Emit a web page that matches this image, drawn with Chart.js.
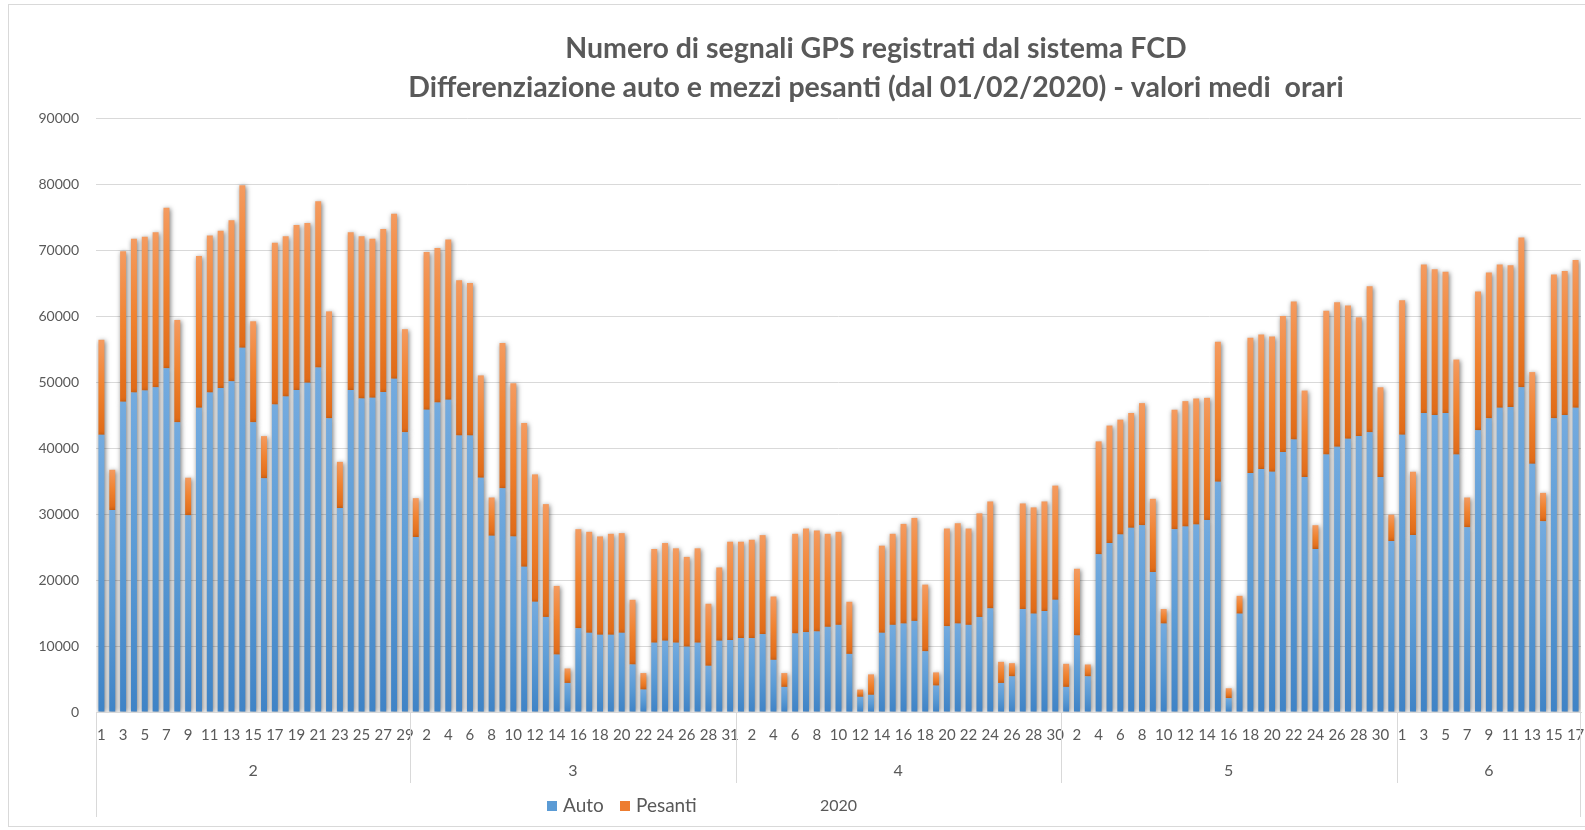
<!DOCTYPE html>
<html lang="it">
<head>
<meta charset="utf-8">
<title>Segnali GPS FCD</title>
<script src="https://cdn.jsdelivr.net/npm/chart.js@4.4.1/dist/chart.umd.min.js"></script>
<style>
  html, body { margin: 0; padding: 0; background: #fff; }
  #chart { display: block; }
</style>
</head>
<body>
<canvas id="chart" width="1585" height="830"></canvas>
<script>
// days per month (29 marzo missing in the source data)
const giorniFeb = [1,2,3,4,5,6,7,8,9,10,11,12,13,14,15,16,17,18,19,20,21,22,23,24,25,26,27,28,29];
const giorniMar = [1,2,3,4,5,6,7,8,9,10,11,12,13,14,15,16,17,18,19,20,21,22,23,24,25,26,27,28,30,31];
const giorniApr = [1,2,3,4,5,6,7,8,9,10,11,12,13,14,15,16,17,18,19,20,21,22,23,24,25,26,27,28,29,30];
const giorniMag = [1,2,3,4,5,6,7,8,9,10,11,12,13,14,15,16,17,18,19,20,21,22,23,24,25,26,27,28,29,30,31];
const giorniGiu = [1,2,3,4,5,6,7,8,9,10,11,12,13,14,15,16,17];
const mesi = ['2', '3', '4', '5', '6'];
const anno = '2020';

// Auto
const autoFeb = [42000,30600,47000,48400,48700,49200,52100,43900,29800,46100,48400,49100,50100,55200,43900,35400,46600,47800,48800,49900,52200,44500,30900,48800,47500,47600,48500,50500,42400];
const autoMar = [26500,45800,46900,47300,41900,41900,35500,26700,33900,26600,22000,16700,14400,8700,4400,12700,12000,11700,11700,12000,7200,3400,10500,10800,10500,9900,10500,7000,10800,10900];
const autoApr = [11200,11200,11800,7900,3800,11900,12100,12200,12900,13200,8800,2300,2600,12000,13200,13400,13800,9200,4000,13000,13400,13200,14400,15700,4400,5400,15600,14900,15300,17000];
const autoMag = [3800,11600,5400,23900,25600,26900,27900,28300,21200,13400,27700,28100,28400,29100,34900,2100,14900,36200,36800,36400,39400,41300,35600,24700,39000,40200,41400,41800,42400,35600,25900];
const autoGiu = [42000,26800,45300,45000,45300,39000,28000,42700,44500,46100,46200,49200,37600,28900,44500,45000,46100];

// Pesanti
const pesFeb = [14400,6100,22800,23300,23300,23500,24300,15500,5700,23000,23800,23800,24400,24600,15300,6400,24500,24300,25000,24200,25200,16200,7000,23900,24600,24100,24700,25000,15600];
const pesMar = [5900,23900,23400,24300,23500,23100,15500,5800,22000,23200,21800,19300,17100,10400,2200,15000,15300,14900,15300,15100,9800,2500,14200,14800,14300,13600,14300,9400,11100,14900];
const pesApr = [14600,14900,15000,9600,2100,15100,15700,15300,14100,14100,7900,1100,3100,13200,13800,15100,15600,10100,2000,14800,15200,14600,15700,16200,3200,2000,16000,16100,16600,17300];
const pesMag = [3500,10100,1800,17100,17800,17400,17400,18500,11100,2200,18100,19000,19100,18500,21200,1500,2700,20500,20400,20500,20600,20900,13100,3600,21800,21900,20200,18000,22100,13600,4000];
const pesGiu = [20400,9600,22500,22100,21400,14400,4500,21000,22100,21700,21500,22700,13900,4300,21800,21800,22400];

const gruppi = [giorniFeb, giorniMar, giorniApr, giorniMag, giorniGiu];
const dayLabels = [].concat(...gruppi).map(String);
const auto = [].concat(autoFeb, autoMar, autoApr, autoMag, autoGiu);
const pesanti = [].concat(pesFeb, pesMar, pesApr, pesMag, pesGiu);

const TEXT = '#595959';
const GRID = '#d9d9d9';
const FONT = 'Lato, "Open Sans", sans-serif';

// gradient per segment, light on top, darker at the bottom (Excel style)
const segmentFill = (light, mid, dark) => (ctx) => {
    const chart = ctx.chart;
    const y = chart.scales.y;
    if (ctx.type !== 'data' || !y || !chart.chartArea) return mid;
    const i = ctx.dataIndex;
    const base = ctx.datasetIndex === 0 ? 0 : auto[i];
    const top = base + ctx.raw;
    const y0 = y.getPixelForValue(top);
    const y1 = y.getPixelForValue(base);
    if (!isFinite(y0) || !isFinite(y1) || y1 - y0 < 1) return mid;
    const g = chart.ctx.createLinearGradient(0, y0, 0, y1);
    g.addColorStop(0, light);
    g.addColorStop(0.5, mid);
    g.addColorStop(1, dark);
    return g;
};

const barShadow = {
    id: 'barShadow',
    beforeDatasetsDraw(chart) {
        const c = chart.ctx;
        c.save();
        c.shadowColor = 'rgba(0,0,0,0.55)';
        c.shadowBlur = 5;
        c.shadowOffsetX = 1;
        c.shadowOffsetY = 1;
    },
    afterDatasetsDraw(chart) {
        chart.ctx.restore();
    }
};

// frame, title, month groups, year and legend
const excelDecor = {
    id: 'excelDecor',
    beforeDraw(chart) {
        const c = chart.ctx;
        c.save();
        c.strokeStyle = GRID;
        c.lineWidth = 1;
        c.strokeRect(8.5, 4.5, 1600, 822);
        c.restore();
    },
    afterDraw(chart) {
        const c = chart.ctx;
        const x = chart.scales.x;
        const area = chart.chartArea;
        const pitch = (area.right - area.left) / dayLabels.length;
        c.save();

        // title
        c.fillStyle = TEXT;
        c.textAlign = 'center';
        c.textBaseline = 'alphabetic';
        c.font = 'bold 28.5px ' + FONT;
        c.fillText('Numero di segnali GPS registrati dal sistema FCD', 876, 58);
        c.fillText('Differenziazione auto e mezzi pesanti (dal 01/02/2020) - valori medi  orari', 876, 97);

        // month separators and labels
        c.strokeStyle = GRID;
        c.lineWidth = 1;
        c.font = '16px ' + FONT;
        c.textBaseline = 'middle';
        let start = 0;
        gruppi.forEach((g, k) => {
            const left = x.getPixelForValue(start) - pitch / 2;
            const right = x.getPixelForValue(start + g.length - 1) + pitch / 2;
            const outer = k === 0;
            c.beginPath();
            c.moveTo(Math.round(left) + 0.5, area.bottom);
            c.lineTo(Math.round(left) + 0.5, outer ? 817 : 783);
            c.stroke();
            c.fillText(mesi[k], (left + right) / 2, 771);
            start += g.length;
        });
        c.beginPath();
        c.moveTo(Math.round(area.right) - 0.5, area.bottom);
        c.lineTo(Math.round(area.right) - 0.5, 817);
        c.stroke();

        // year
        c.fillText(anno, (area.left + area.right) / 2, 806);

        // legend
        const items = [['Auto', '#5b9bd5', 547], ['Pesanti', '#ed7d31', 620]];
        c.textAlign = 'left';
        c.font = '19px ' + FONT;
        items.forEach(([name, col, lx]) => {
            c.fillStyle = col;
            c.fillRect(lx, 801, 10, 10);
            c.fillStyle = TEXT;
            c.fillText(name, lx + 16, 806);
        });
        c.restore();
    }
};

new Chart(document.getElementById('chart'), {
    type: 'bar',
    data: {
        labels: dayLabels,
        datasets: [{
            label: 'Auto',
            data: auto,
            backgroundColor: segmentFill('#74abdf', '#5b9bd5', '#3f83c6'),
            barPercentage: 0.55,
            categoryPercentage: 1.0
        }, {
            label: 'Pesanti',
            data: pesanti,
            backgroundColor: segmentFill('#f49b60', '#f0822f', '#df6a17'),
            barPercentage: 0.55,
            categoryPercentage: 1.0
        }]
    },
    options: {
        responsive: false,
        animation: false,
        layout: { padding: { top: 118, right: 4, bottom: 78, left: 0 } },
        plugins: {
            legend: { display: false },
            title: { display: false },
            tooltip: { enabled: false }
        },
        scales: {
            x: {
                stacked: true,
                grid: { display: false, drawTicks: false },
                border: { display: true, color: GRID },
                ticks: {
                    autoSkip: false,
                    maxRotation: 0,
                    minRotation: 0,
                    padding: 14,
                    color: TEXT,
                    font: { family: FONT, size: 15 },
                    callback: (v, i) => (i % 2 === 0 ? dayLabels[i] : '')
                },
                afterFit: (s) => {
                    s.height = 40;
                    s.paddingLeft = 0;
                    s.paddingRight = 0;
                }
            },
            y: {
                stacked: true,
                min: 0,
                max: 90000,
                grid: { color: GRID, drawTicks: false },
                border: { display: false },
                ticks: {
                    stepSize: 10000,
                    padding: 17,
                    color: TEXT,
                    font: { family: FONT, size: 14 },
                    callback: (v) => String(v)
                },
                afterFit: (s) => { s.width = 96; }
            }
        }
    },
    plugins: [barShadow, excelDecor]
});
</script>
</body>
</html>
